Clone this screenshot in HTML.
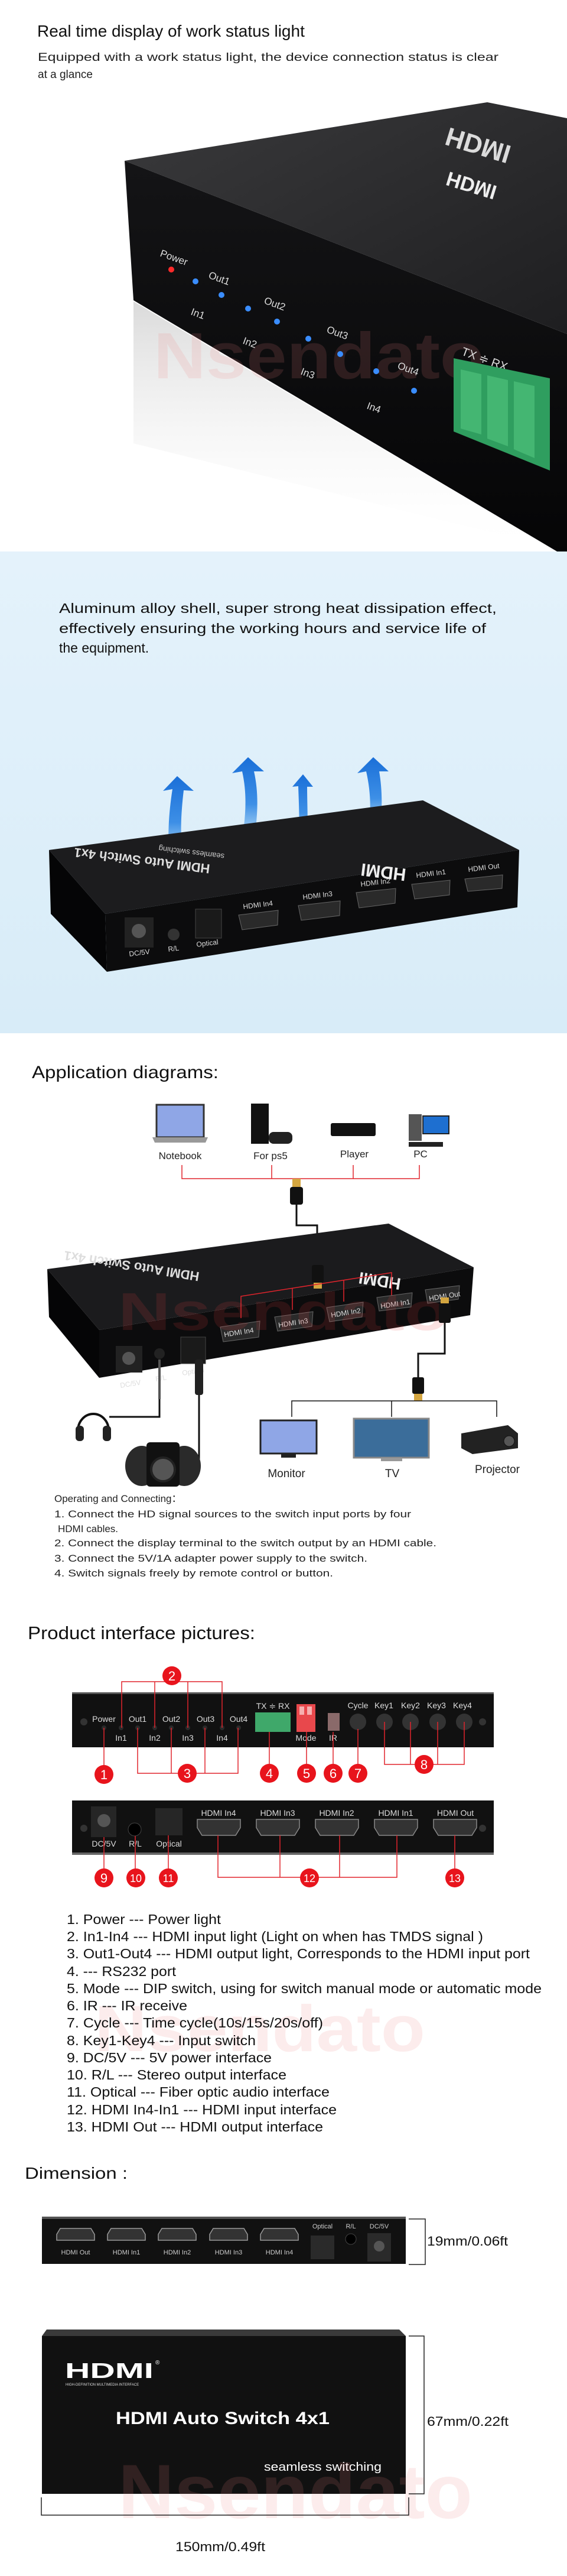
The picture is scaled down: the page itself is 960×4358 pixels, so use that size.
<!DOCTYPE html>
<html><head><meta charset="utf-8">
<style>
html,body{margin:0;padding:0;background:#fff;}
svg{display:block;}
text{font-family:"Liberation Sans",Arial,sans-serif;}
</style></head>
<body>
<svg width="960" height="4358" viewBox="0 0 960 4358" xmlns="http://www.w3.org/2000/svg">
<defs>
<linearGradient id="topg" x1="0" y1="0" x2="1" y2="1"><stop offset="0" stop-color="#3a3a3c"/><stop offset="1" stop-color="#1e1e20"/></linearGradient>
<linearGradient id="frontg" x1="0" y1="0" x2="0" y2="1"><stop offset="0" stop-color="#141416"/><stop offset="1" stop-color="#050506"/></linearGradient>
<linearGradient id="refl" x1="0" y1="0" x2="0" y2="1"><stop offset="0" stop-color="#777" stop-opacity="0.45"/><stop offset="1" stop-color="#fff" stop-opacity="0"/></linearGradient>
<linearGradient id="arr" x1="0" y1="1" x2="0" y2="0"><stop offset="0" stop-color="#7fbff0" stop-opacity="0.2"/><stop offset="0.5" stop-color="#3d8fe6"/><stop offset="1" stop-color="#1a6fd8"/></linearGradient>
<linearGradient id="bluebg" x1="0" y1="0" x2="0" y2="1"><stop offset="0" stop-color="#e4f2fb"/><stop offset="1" stop-color="#d8ecf8"/></linearGradient>
</defs>

<!-- ===== Section 1 ===== -->
<text x="63" y="62" font-size="28" fill="#111">Real time display of work status light</text>
<text x="64" y="103" font-size="19" fill="#222" textLength="780" lengthAdjust="spacingAndGlyphs">Equipped with a work status light, the device connection status is clear</text>
<text x="64" y="132" font-size="19" fill="#222">at a glance</text>

<polygon points="211,272 825,173 960,200 960,565" fill="url(#topg)"/>
<polygon points="211,272 960,565 960,943 226,508" fill="url(#frontg)"/>
<polygon points="226,510 960,945 960,933 226,750" fill="url(#refl)" opacity="0.6"/>
<text x="760" y="215" font-size="44" font-weight="bold" fill="#eee" transform="rotate(17 760 215) scale(1,-1) translate(0,-430)" opacity="0.9">HDMI</text>
<text x="760" y="290" font-size="34" font-weight="bold" fill="#eee" transform="rotate(17 760 290) scale(1,-1) translate(0,-580)">HDMI</text>
<text x="260" y="640" font-size="110" font-weight="bold" fill="#f08080" opacity="0.15" textLength="560" lengthAdjust="spacingAndGlyphs">Nsendato</text>
<g font-size="17" fill="#ddd">
<text x="270" y="433" transform="rotate(20 270 433)">Power</text>
<text x="352" y="470" transform="rotate(20 352 470)">Out1</text>
<text x="322" y="532" transform="rotate(20 322 532)">In1</text>
<text x="446" y="513" transform="rotate(20 446 513)">Out2</text>
<text x="410" y="581" transform="rotate(20 410 581)">In2</text>
<text x="552" y="562" transform="rotate(20 552 562)">Out3</text>
<text x="508" y="633" transform="rotate(20 508 633)">In3</text>
<text x="672" y="623" transform="rotate(20 672 623)">Out4</text>
<text x="620" y="691" transform="rotate(20 620 691)">In4</text>
<text x="780" y="600" font-size="20" transform="rotate(20 780 600)">TX ≑ RX</text>
</g>
<circle cx="290" cy="456" r="5" fill="#ff2a2a"/>
<g fill="#3a8dff">
<circle cx="331" cy="476" r="5"/><circle cx="375" cy="499" r="5"/><circle cx="420" cy="522" r="5"/><circle cx="469" cy="544" r="5"/><circle cx="522" cy="573" r="5"/><circle cx="576" cy="599" r="5"/><circle cx="637" cy="628" r="5"/><circle cx="701" cy="661" r="5"/>
</g>
<polygon points="768,606 931,640 931,796 768,730" fill="#2f9e5f"/>
<polygon points="780,625 815,633 815,735 780,725" fill="#44b672"/>
<polygon points="825,635 860,643 860,755 825,742" fill="#44b672"/>
<polygon points="870,645 905,653 905,775 870,760" fill="#44b672"/>

<!-- ===== Section 2 ===== -->
<rect x="0" y="933" width="960" height="815" fill="url(#bluebg)"/>
<text x="100" y="1037" font-size="23" fill="#111" textLength="741" lengthAdjust="spacingAndGlyphs">Aluminum alloy shell, super strong heat dissipation effect,</text>
<text x="100" y="1071" font-size="23" fill="#111" textLength="723" lengthAdjust="spacingAndGlyphs">effectively ensuring the working hours and service life of</text>
<text x="100" y="1104" font-size="23" fill="#111">the equipment.</text>

<g fill="url(#arr)">
<path d="M288,1470 C283,1420 285,1380 292,1335 L276,1338 L300,1313 L328,1338 L311,1337 C306,1380 304,1420 312,1470 Z"/>
<path d="M407,1440 C415,1390 420,1350 410,1305 L393,1308 L420,1281 L447,1305 L430,1305 C440,1350 435,1390 428,1440 Z"/>
<path d="M505,1440 C508,1400 506,1360 505,1330 L495,1331 L513,1310 L530,1331 L520,1331 C520,1360 522,1400 520,1440 Z"/>
<path d="M620,1420 C630,1380 628,1340 620,1305 L605,1308 L632,1281 L658,1305 L642,1305 C648,1340 648,1380 640,1420 Z"/>
</g>
<polygon points="83,1438 716,1354 879,1438 178,1546" fill="#1c1c1e"/>
<polygon points="178,1546 879,1438 876,1535 181,1644" fill="#0c0c0d"/>
<polygon points="83,1438 178,1546 181,1644 86,1546" fill="#050506"/>
<text x="640" y="1400" font-size="22" font-weight="bold" fill="#ddd" transform="rotate(187 500 1440)">HDMI Auto Switch 4x1</text>
<text x="140" y="1450" font-size="13" fill="#ccc" transform="rotate(187 260 1440)">seamless switching</text>
<text x="770" y="1445" font-size="30" font-weight="bold" fill="#eee" transform="rotate(187 730 1460)">HDMI</text>
<rect x="211" y="1552" width="49" height="51" fill="#222"/><circle cx="235" cy="1575" r="12" fill="#555"/>
<circle cx="294" cy="1581" r="10" fill="#333"/>
<rect x="331" y="1538" width="44" height="49" fill="#1a1a1a" stroke="#444"/>
<g fill="#2a2a2a" stroke="#666">
<polygon points="404,1548 471,1540 470,1565 410,1573"/>
<polygon points="505,1532 576,1524 575,1549 510,1557"/>
<polygon points="603,1510 670,1503 669,1528 608,1536"/>
<polygon points="697,1496 762,1489 761,1514 702,1521"/>
<polygon points="787,1487 851,1480 850,1503 792,1508"/>
</g>
<g font-size="12" fill="#ddd">
<text x="219" y="1618" transform="rotate(-7 219 1618)">DC/5V</text>
<text x="285" y="1610" transform="rotate(-7 285 1610)">R/L</text>
<text x="333" y="1602" transform="rotate(-7 333 1602)">Optical</text>
<text x="412" y="1538" transform="rotate(-7 412 1538)">HDMI In4</text>
<text x="513" y="1522" transform="rotate(-7 513 1522)">HDMI In3</text>
<text x="611" y="1500" transform="rotate(-7 611 1500)">HDMI In2</text>
<text x="705" y="1485" transform="rotate(-7 705 1485)">HDMI In1</text>
<text x="793" y="1475" transform="rotate(-7 793 1475)">HDMI Out</text>
</g>

<!-- ===== Section 3 ===== -->
<text x="54" y="1824" font-size="30" fill="#111" textLength="316" lengthAdjust="spacingAndGlyphs">Application diagrams:</text>
<rect x="265" y="1869" width="80" height="55" fill="#8fa6e6" stroke="#333" stroke-width="3"/>
<polygon points="258,1924 352,1924 348,1933 262,1933" fill="#999"/>
<rect x="425" y="1867" width="30" height="68" fill="#111"/>
<rect x="455" y="1915" width="40" height="20" rx="8" fill="#222"/>
<rect x="560" y="1900" width="76" height="22" rx="3" fill="#111"/>
<rect x="692" y="1885" width="22" height="45" fill="#555"/>
<rect x="716" y="1888" width="44" height="30" fill="#1e6fd0" stroke="#222" stroke-width="2"/>
<rect x="692" y="1932" width="58" height="8" fill="#222"/>
<g font-size="17" fill="#222">
<text x="305" y="1961" text-anchor="middle">Notebook</text>
<text x="458" y="1961" text-anchor="middle">For ps5</text>
<text x="600" y="1958" text-anchor="middle">Player</text>
<text x="712" y="1958" text-anchor="middle">PC</text>
</g>
<polyline points="308,1971 308,1994 710,1994 710,1971" fill="none" stroke="#e0242c" stroke-width="1.5"/>
<line x1="460" y1="1971" x2="460" y2="1994" stroke="#e0242c" stroke-width="1.5"/>
<line x1="598" y1="1971" x2="598" y2="1994" stroke="#e0242c" stroke-width="1.5"/>
<rect x="495" y="1994" width="14" height="14" fill="#d4a640"/>
<rect x="491" y="2008" width="22" height="30" rx="4" fill="#111"/>
<polyline points="502,2038 502,2073 537,2073 537,2140" fill="none" stroke="#111" stroke-width="3"/>
<polygon points="80,2147 658,2070 802,2144 168,2250" fill="#1b1b1d"/>
<polygon points="168,2250 802,2144 796,2225 168,2331" fill="#0c0c0d"/>
<polygon points="80,2147 168,2250 168,2331 83,2228" fill="#050506"/>
<text x="560" y="2130" font-size="22" font-weight="bold" fill="#ddd" transform="rotate(189 450 2150)">HDMI Auto Switch 4x1</text>
<text x="640" y="2160" font-size="28" font-weight="bold" fill="#eee" transform="rotate(189 660 2160)">HDMI</text>
<rect x="528" y="2140" width="20" height="30" rx="3" fill="#111"/>
<rect x="531" y="2170" width="14" height="10" fill="#d4a640"/>
<polyline points="408,2230 408,2193 663,2153 663,2200" fill="none" stroke="#e0242c" stroke-width="1.5"/>
<line x1="495" y1="2180" x2="495" y2="2216" stroke="#e0242c" stroke-width="1.5"/>
<line x1="582" y1="2166" x2="582" y2="2202" stroke="#e0242c" stroke-width="1.5"/>
<g fill="#2a2a2a" stroke="#666">
<polygon points="373,2245 440,2235 438,2262 378,2270"/>
<polygon points="465,2228 530,2219 528,2244 470,2252"/>
<polygon points="553,2212 615,2203 613,2228 558,2236"/>
<polygon points="638,2195 698,2187 696,2211 642,2218"/>
<polygon points="720,2182 778,2175 776,2198 724,2205"/>
</g>
<rect x="196" y="2277" width="45" height="45" fill="#222"/><circle cx="218" cy="2298" r="11" fill="#555"/>
<circle cx="270" cy="2290" r="9" fill="#222"/>
<rect x="306" y="2262" width="42" height="45" fill="#1a1a1a" stroke="#444"/>
<g font-size="12" fill="#ddd">
<text x="204" y="2348" transform="rotate(-9 204 2348)">DC/5V</text>
<text x="264" y="2337" transform="rotate(-9 264 2337)">R/L</text>
<text x="309" y="2327" transform="rotate(-9 309 2327)">Optical</text>
<text x="380" y="2262" transform="rotate(-9 380 2262)">HDMI In4</text>
<text x="472" y="2246" transform="rotate(-9 472 2246)">HDMI In3</text>
<text x="561" y="2229" transform="rotate(-9 561 2229)">HDMI In2</text>
<text x="645" y="2214" transform="rotate(-9 645 2214)">HDMI In1</text>
<text x="727" y="2201" transform="rotate(-9 727 2201)">HDMI Out</text>
</g>
<text x="200" y="2250" font-size="90" font-weight="bold" fill="#e04040" opacity="0.15" textLength="560" lengthAdjust="spacingAndGlyphs">Nsendato</text>
<rect x="746" y="2195" width="14" height="10" fill="#d4a640"/>
<rect x="743" y="2205" width="20" height="33" rx="3" fill="#111"/>
<polyline points="753,2238 753,2290 708,2290 708,2330" fill="none" stroke="#111" stroke-width="3"/>
<rect x="698" y="2330" width="20" height="28" rx="3" fill="#111"/>
<rect x="701" y="2358" width="14" height="12" fill="#d4a640"/>
<polyline points="494,2397 494,2370 841,2370 841,2397" fill="none" stroke="#111" stroke-width="1.5"/>
<line x1="663" y1="2370" x2="663" y2="2397" stroke="#111" stroke-width="1.5"/>
<rect x="441" y="2403" width="95" height="56" fill="#8fa6e6" stroke="#222" stroke-width="3"/>
<rect x="476" y="2459" width="25" height="7" fill="#222"/>
<rect x="599" y="2400" width="127" height="66" fill="#3b6d9a" stroke="#888" stroke-width="3"/>
<rect x="645" y="2466" width="36" height="6" fill="#999"/>
<polygon points="781,2425 860,2411 877,2425 877,2450 800,2460 781,2450" fill="#222"/>
<circle cx="862" cy="2438" r="9" fill="#555" stroke="#111"/>
<g font-size="19" fill="#222">
<text x="485" y="2499" text-anchor="middle">Monitor</text>
<text x="664" y="2499" text-anchor="middle">TV</text>
<text x="842" y="2492" text-anchor="middle">Projector</text>
</g>
<line x1="270" y1="2300" x2="270" y2="2367" stroke="#555" stroke-width="4"/>
<polyline points="270,2367 270,2397 185,2397" fill="none" stroke="#111" stroke-width="3"/>
<path d="M132,2420 A26,28 0 0 1 184,2420" fill="none" stroke="#111" stroke-width="4"/>
<rect x="128" y="2412" width="14" height="26" rx="6" fill="#222"/>
<rect x="174" y="2412" width="14" height="26" rx="6" fill="#222"/>
<rect x="330" y="2300" width="14" height="60" rx="4" fill="#222"/>
<polyline points="337,2360 337,2467 320,2467" fill="none" stroke="#111" stroke-width="3"/>
<ellipse cx="240" cy="2480" rx="28" ry="34" fill="#2a2a2a"/>
<ellipse cx="312" cy="2480" rx="28" ry="34" fill="#2a2a2a"/>
<rect x="248" y="2440" width="56" height="75" rx="6" fill="#111"/>
<circle cx="276" cy="2486" r="20" fill="#555" stroke="#222" stroke-width="4"/>
<g font-size="17" fill="#222">
<text x="92" y="2541">Operating and Connecting：</text>
<text x="92" y="2567" textLength="604" lengthAdjust="spacingAndGlyphs">1. Connect the HD signal sources to the switch input ports by four</text>
<text x="98" y="2592">HDMI cables.</text>
<text x="92" y="2616" textLength="647" lengthAdjust="spacingAndGlyphs">2. Connect the display terminal to the switch output by an HDMI cable.</text>
<text x="92" y="2642" textLength="530" lengthAdjust="spacingAndGlyphs">3. Connect the 5V/1A adapter power supply to the switch.</text>
<text x="92" y="2667" textLength="472" lengthAdjust="spacingAndGlyphs">4. Switch signals freely by remote control or button.</text>
</g>

<!-- ===== Section 4 ===== -->
<text x="47" y="2773" font-size="31" fill="#111" textLength="385" lengthAdjust="spacingAndGlyphs">Product interface pictures:</text>
<rect x="122" y="2863" width="714" height="93" fill="#111"/>
<rect x="122" y="2863" width="714" height="3" fill="#555"/>
<rect x="122" y="3046" width="714" height="91" fill="#111"/>
<rect x="122" y="3134" width="714" height="4" fill="#666"/>
<g font-size="14" fill="#ddd" text-anchor="middle">
<text x="176" y="2913">Power</text><text x="233" y="2913">Out1</text><text x="290" y="2913">Out2</text><text x="348" y="2913">Out3</text><text x="404" y="2913">Out4</text>
<text x="205" y="2945">In1</text><text x="262" y="2945">In2</text><text x="318" y="2945">In3</text><text x="376" y="2945">In4</text>
<text x="462" y="2891">TX ≑ RX</text><text x="518" y="2945">Mode</text><text x="564" y="2945">IR</text>
<text x="606" y="2890">Cycle</text><text x="650" y="2890">Key1</text><text x="695" y="2890">Key2</text><text x="739" y="2890">Key3</text><text x="783" y="2890">Key4</text>
<text x="176" y="3124">DC/5V</text><text x="229" y="3124">R/L</text><text x="286" y="3124">Optical</text>
<text x="370" y="3072">HDMI In4</text><text x="470" y="3072">HDMI In3</text><text x="570" y="3072">HDMI In2</text><text x="670" y="3072">HDMI In1</text><text x="771" y="3072">HDMI Out</text>
</g>
<g fill="#2a2a2a">
<circle cx="176" cy="2923" r="4"/><circle cx="205" cy="2923" r="4"/><circle cx="233" cy="2923" r="4"/><circle cx="262" cy="2923" r="4"/><circle cx="290" cy="2923" r="4"/><circle cx="318" cy="2923" r="4"/><circle cx="347" cy="2923" r="4"/><circle cx="376" cy="2923" r="4"/><circle cx="404" cy="2923" r="4"/>
<circle cx="606" cy="2913" r="14" fill="#333"/><circle cx="651" cy="2913" r="14" fill="#333"/><circle cx="695" cy="2913" r="14" fill="#333"/><circle cx="741" cy="2913" r="14" fill="#333"/><circle cx="786" cy="2913" r="14" fill="#333"/>
</g>
<circle cx="142" cy="2913" r="6" fill="#333"/><circle cx="817" cy="2913" r="6" fill="#333"/>
<circle cx="142" cy="3093" r="6" fill="#333"/><circle cx="817" cy="3093" r="6" fill="#333"/>
<rect x="432" y="2897" width="60" height="33" fill="#3fa86a"/>
<rect x="502" y="2883" width="32" height="47" fill="#e8484c"/>
<rect x="507" y="2887" width="8" height="14" fill="#f6b0b0"/><rect x="520" y="2887" width="8" height="14" fill="#f6b0b0"/>
<rect x="555" y="2898" width="20" height="30" fill="#8a6a6a"/>
<rect x="154" y="3056" width="43" height="52" fill="#262626"/><circle cx="176" cy="3080" r="11" fill="#555"/>
<circle cx="228" cy="3095" r="11" fill="#000" stroke="#444"/>
<rect x="263" y="3059" width="46" height="46" fill="#262626"/>
<g fill="#333" stroke="#888" stroke-width="1.5">
<path d="M334,3078 h73 v14 l-8,13 h-57 l-8,-13 z"/>
<path d="M434,3078 h73 v14 l-8,13 h-57 l-8,-13 z"/>
<path d="M534,3078 h73 v14 l-8,13 h-57 l-8,-13 z"/>
<path d="M634,3078 h73 v14 l-8,13 h-57 l-8,-13 z"/>
<path d="M734,3078 h73 v14 l-8,13 h-57 l-8,-13 z"/>
</g>
<g fill="none" stroke="#e0242c" stroke-width="1.5">
<polyline points="206,2923 206,2845 376,2845 376,2923"/>
<line x1="262" y1="2845" x2="262" y2="2923"/><line x1="318" y1="2845" x2="318" y2="2923"/>
<line x1="176" y1="2923" x2="176" y2="2990"/>
<polyline points="233,2923 233,3000 403,3000 403,2923"/>
<line x1="290" y1="2923" x2="290" y2="3000"/><line x1="347" y1="2923" x2="347" y2="3000"/>
<line x1="456" y1="2930" x2="456" y2="2990"/><line x1="519" y1="2930" x2="519" y2="2990"/>
<line x1="564" y1="2930" x2="564" y2="2990"/><line x1="606" y1="2925" x2="606" y2="2990"/>
<polyline points="651,2913 651,2985 786,2985 786,2913"/>
<line x1="695" y1="2913" x2="695" y2="2985"/><line x1="741" y1="2913" x2="741" y2="2985"/>
<line x1="176" y1="3108" x2="176" y2="3165"/><line x1="229" y1="3106" x2="229" y2="3165"/><line x1="285" y1="3105" x2="285" y2="3165"/>
<polyline points="369,3105 369,3176 672,3176 672,3105"/>
<line x1="474" y1="3105" x2="474" y2="3176"/><line x1="575" y1="3105" x2="575" y2="3176"/>
<line x1="770" y1="3105" x2="770" y2="3165"/>
</g>
<g fill="#e8141c">
<circle cx="176" cy="3002" r="16"/><circle cx="291" cy="2835" r="16"/><circle cx="317" cy="3000" r="16"/><circle cx="456" cy="3000" r="16"/><circle cx="519" cy="3000" r="16"/><circle cx="564" cy="3000" r="16"/><circle cx="606" cy="3000" r="16"/><circle cx="718" cy="2985" r="16"/>
<circle cx="176" cy="3177" r="16"/><circle cx="230" cy="3177" r="16"/><circle cx="285" cy="3177" r="16"/><circle cx="524" cy="3177" r="16"/><circle cx="770" cy="3177" r="16"/>
</g>
<g font-size="22" fill="#fff" text-anchor="middle">
<text x="176" y="3010">1</text><text x="291" y="2843">2</text><text x="317" y="3008">3</text><text x="456" y="3008">4</text><text x="519" y="3008">5</text><text x="564" y="3008">6</text><text x="606" y="3008">7</text><text x="718" y="2993">8</text>
<text x="176" y="3185">9</text><text x="230" y="3184" font-size="18">10</text><text x="285" y="3184" font-size="18">11</text><text x="524" y="3184" font-size="18">12</text><text x="770" y="3184" font-size="18">13</text>
</g>
<text x="160" y="3470" font-size="110" font-weight="bold" fill="#f08080" opacity="0.14" textLength="560" lengthAdjust="spacingAndGlyphs">Nsendato</text>
<g font-size="23" fill="#111">
<text x="113" y="3255" textLength="261" lengthAdjust="spacingAndGlyphs">1. Power --- Power light</text>
<text x="113" y="3284" textLength="705" lengthAdjust="spacingAndGlyphs">2. In1-In4 --- HDMI input light (Light on when has TMDS signal )</text>
<text x="113" y="3313" textLength="784" lengthAdjust="spacingAndGlyphs">3. Out1-Out4 --- HDMI output light, Corresponds to the HDMI input port</text>
<text x="113" y="3343" textLength="185" lengthAdjust="spacingAndGlyphs">4. --- RS232 port</text>
<text x="113" y="3372" textLength="804" lengthAdjust="spacingAndGlyphs">5. Mode --- DIP switch, using for switch manual mode or automatic mode</text>
<text x="113" y="3401" textLength="204" lengthAdjust="spacingAndGlyphs">6. IR --- IR receive</text>
<text x="113" y="3430" textLength="434" lengthAdjust="spacingAndGlyphs">7. Cycle --- Time cycle(10s/15s/20s/off)</text>
<text x="113" y="3460" textLength="320" lengthAdjust="spacingAndGlyphs">8. Key1-Key4 --- Input switch</text>
<text x="113" y="3489" textLength="347" lengthAdjust="spacingAndGlyphs">9. DC/5V --- 5V power interface</text>
<text x="113" y="3518" textLength="372" lengthAdjust="spacingAndGlyphs">10. R/L --- Stereo output interface</text>
<text x="113" y="3547" textLength="445" lengthAdjust="spacingAndGlyphs">11. Optical --- Fiber optic audio interface</text>
<text x="113" y="3577" textLength="457" lengthAdjust="spacingAndGlyphs">12. HDMI In4-In1 --- HDMI input interface</text>
<text x="113" y="3606" textLength="434" lengthAdjust="spacingAndGlyphs">13. HDMI Out --- HDMI output interface</text>
</g>

<!-- ===== Dimension ===== -->
<text x="42" y="3686" font-size="28" fill="#111" textLength="174" lengthAdjust="spacingAndGlyphs">Dimension :</text>
<rect x="71" y="3750" width="616" height="80" fill="#111"/>
<rect x="71" y="3750" width="616" height="4" fill="#555"/>
<g fill="#333" stroke="#999" stroke-width="1.5">
<path d="M96,3790 h64 v-10 l-6,-10 h-52 l-6,10 z"/>
<path d="M182,3790 h64 v-10 l-6,-10 h-52 l-6,10 z"/>
<path d="M268,3790 h64 v-10 l-6,-10 h-52 l-6,10 z"/>
<path d="M355,3790 h64 v-10 l-6,-10 h-52 l-6,10 z"/>
<path d="M441,3790 h64 v-10 l-6,-10 h-52 l-6,10 z"/>
</g>
<rect x="526" y="3782" width="40" height="40" fill="#2a2a2a"/>
<circle cx="594" cy="3788" r="9" fill="#000" stroke="#444"/>
<rect x="622" y="3778" width="40" height="48" fill="#2a2a2a"/><circle cx="642" cy="3800" r="9" fill="#555"/>
<g font-size="11" fill="#ccc" text-anchor="middle">
<text x="128" y="3814">HDMI Out</text><text x="214" y="3814">HDMI In1</text><text x="300" y="3814">HDMI In2</text><text x="387" y="3814">HDMI In3</text><text x="473" y="3814">HDMI In4</text>
<text x="546" y="3770">Optical</text><text x="594" y="3770">R/L</text><text x="642" y="3770">DC/5V</text>
</g>
<polyline points="692,3754 720,3754 720,3831 692,3831" fill="none" stroke="#222" stroke-width="1.5"/>
<text x="723" y="3799" font-size="22" fill="#111" textLength="137" lengthAdjust="spacingAndGlyphs">19mm/0.06ft</text>

<polygon points="79,3941 676,3941 687,3952 71,3952" fill="#3a3a3a"/>
<rect x="71" y="3952" width="616" height="267" fill="#111"/>
<text x="110" y="4023" font-size="36" font-weight="bold" fill="#fff" textLength="150" lengthAdjust="spacingAndGlyphs">HDMI</text>
<text x="263" y="4000" font-size="10" fill="#fff">®</text>
<text x="111" y="4036" font-size="6" fill="#ddd">HIGH-DEFINITION MULTIMEDIA INTERFACE</text>
<text x="196" y="4101" font-size="30" font-weight="bold" fill="#fff" textLength="362" lengthAdjust="spacingAndGlyphs">HDMI Auto Switch 4x1</text>
<text x="447" y="4180" font-size="20" fill="#fff" textLength="199" lengthAdjust="spacingAndGlyphs">seamless switching</text>
<text x="200" y="4260" font-size="130" font-weight="bold" fill="#f08080" opacity="0.14" textLength="600" lengthAdjust="spacingAndGlyphs">Nsendato</text>
<polyline points="692,3952 718,3952 718,4219 692,4219" fill="none" stroke="#222" stroke-width="1.5"/>
<text x="723" y="4104" font-size="22" fill="#111" textLength="138" lengthAdjust="spacingAndGlyphs">67mm/0.22ft</text>
<polyline points="70,4225 70,4255 692,4255 692,4225" fill="none" stroke="#222" stroke-width="1.5"/>
<text x="297" y="4316" font-size="22" fill="#111" textLength="152" lengthAdjust="spacingAndGlyphs">150mm/0.49ft</text>
</svg>
</body></html>
